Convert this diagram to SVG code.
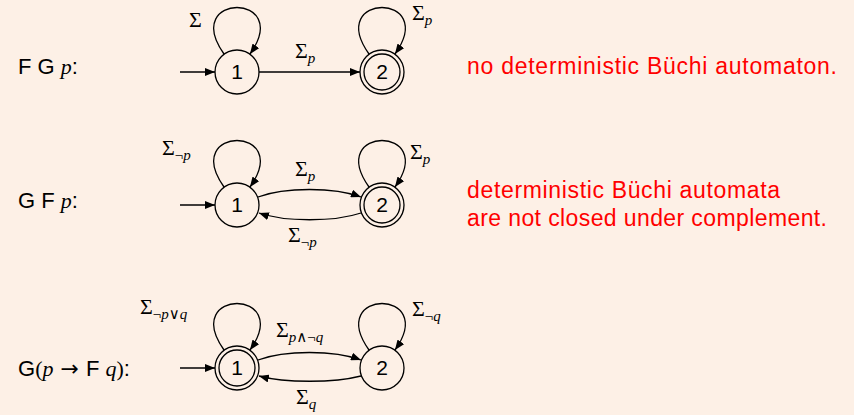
<svg xmlns="http://www.w3.org/2000/svg" width="854" height="415" viewBox="0 0 854 415">
  <defs>
    <marker id="ah" markerUnits="userSpaceOnUse" markerWidth="11" markerHeight="8" refX="10" refY="4" orient="auto">
      <path d="M0,0 L10,4 L0,8 z" fill="#000"/>
    </marker>
    <style>
      .st { fill: none; stroke: #000; stroke-width: 1.3; }
      .ed { fill: none; stroke: #000; stroke-width: 1.3; marker-end: url(#ah); }
      .num { font-family: "Liberation Sans", Arial, sans-serif; font-size: 21px; text-anchor: middle; fill: #000; }
      .lbl { font-family: "Liberation Sans", Arial, sans-serif; font-size: 22px; fill: #000; }
      .mi { font-family: "Liberation Serif", "DejaVu Serif", serif; font-style: italic; }
      .mr { font-family: "Liberation Serif", "DejaVu Serif", serif; }
      .arr { font-family: "DejaVu Sans", sans-serif; }
      .sig { font-family: "Liberation Serif", "DejaVu Serif", serif; font-size: 22px; fill: #000; }
      .sub { font-size: 15px; }
      .red { font-family: "Liberation Sans", Arial, sans-serif; font-size: 23px; fill: #ff0000; }
    </style>
  </defs>
  <rect x="0" y="0" width="854" height="415" fill="#fdf0e6"/>

  <!-- Row labels -->
  <text class="lbl" x="18" y="74">F G <tspan class="mi">p</tspan>:</text>
  <text class="lbl" x="18" y="208">G F <tspan class="mi">p</tspan>:</text>
  <text class="lbl" x="18" y="376">G<tspan class="mr">(</tspan><tspan class="mi">p</tspan><tspan class="arr"> → </tspan>F <tspan class="mi">q</tspan><tspan class="mr">)</tspan>:</text>

  <!-- Red remarks -->
  <text class="red" x="467" y="74" textLength="370" lengthAdjust="spacing">no deterministic Büchi automaton.</text>
  <text class="red" x="467" y="198" textLength="313" lengthAdjust="spacing">deterministic Büchi automata</text>
  <text class="red" x="467" y="226" textLength="360" lengthAdjust="spacing">are not closed under complement.</text>

  <!-- Connectors -->
  <g id="connectors">
    <!-- Row 1 -->
    <path class="ed" d="M180,72 L215,72"/>
    <path class="ed" d="M224,54 C180,-8 294,-8 250,54"/>
    <path class="ed" d="M259,72 L360,72"/>
    <path class="ed" d="M369,54 C325,-8 439,-8 395,54"/>
    <!-- Row 2 -->
    <path class="ed" d="M180,205 L215,205"/>
    <path class="ed" d="M224,187 C180,125 294,125 250,187"/>
    <path class="ed" d="M369,187 C325,125 439,125 395,187"/>
    <path class="ed" d="M258,197 C285,187 334,187 361,197"/>
    <path class="ed" d="M361,213 C334,222 285,222 259,213"/>
    <!-- Row 3 -->
    <path class="ed" d="M180,368 L215,368"/>
    <path class="ed" d="M224,350 C180,288 294,288 250,350"/>
    <path class="ed" d="M369,350 C325,288 439,288 395,350"/>
    <path class="ed" d="M258,360 C285,350 334,350 361,360"/>
    <path class="ed" d="M361,376 C334,383 285,383 259,376"/>
  </g>

  <!-- Edge labels -->
  <g id="edge-labels">
    <text class="sig" x="189" y="27">Σ</text>
    <text class="sig" x="412" y="20">Σ<tspan class="sub mi" dy="5">p</tspan></text>
    <text class="sig" x="295" y="58">Σ<tspan class="sub mi" dy="5">p</tspan></text>

    <text class="sig" x="162" y="155">Σ<tspan class="sub" dy="5">¬<tspan class="mi">p</tspan></tspan></text>
    <text class="sig" x="410" y="159">Σ<tspan class="sub mi" dy="5">p</tspan></text>
    <text class="sig" x="295" y="176">Σ<tspan class="sub mi" dy="5">p</tspan></text>
    <text class="sig" x="288" y="242">Σ<tspan class="sub" dy="5">¬<tspan class="mi">p</tspan></tspan></text>

    <text class="sig" x="140" y="314">Σ<tspan class="sub" dy="5">¬<tspan class="mi">p</tspan>∨<tspan class="mi">q</tspan></tspan></text>
    <text class="sig" x="276" y="337">Σ<tspan class="sub" dy="5"><tspan class="mi">p</tspan>∧¬<tspan class="mi">q</tspan></tspan></text>
    <text class="sig" x="412" y="316">Σ<tspan class="sub" dy="5">¬<tspan class="mi">q</tspan></tspan></text>
    <text class="sig" x="296" y="404">Σ<tspan class="sub mi" dy="5">q</tspan></text>
  </g>

  <!-- Nodes -->
  <g id="r1-n1">
    <circle class="st" cx="237" cy="72" r="22"/>
    <text class="num" x="237" y="79">1</text>
  </g>
  <g id="r1-n2">
    <circle class="st" cx="382" cy="72" r="22"/>
    <circle class="st" cx="382" cy="72" r="18"/>
    <text class="num" x="382" y="79">2</text>
  </g>
  <g id="r2-n1">
    <circle class="st" cx="237" cy="205" r="22"/>
    <text class="num" x="237" y="212">1</text>
  </g>
  <g id="r2-n2">
    <circle class="st" cx="382" cy="205" r="22"/>
    <circle class="st" cx="382" cy="205" r="18"/>
    <text class="num" x="382" y="212">2</text>
  </g>
  <g id="r3-n1">
    <circle class="st" cx="237" cy="368" r="22"/>
    <circle class="st" cx="237" cy="368" r="18"/>
    <text class="num" x="237" y="375">1</text>
  </g>
  <g id="r3-n2">
    <circle class="st" cx="382" cy="368" r="22"/>
    <text class="num" x="382" y="375">2</text>
  </g>
</svg>
